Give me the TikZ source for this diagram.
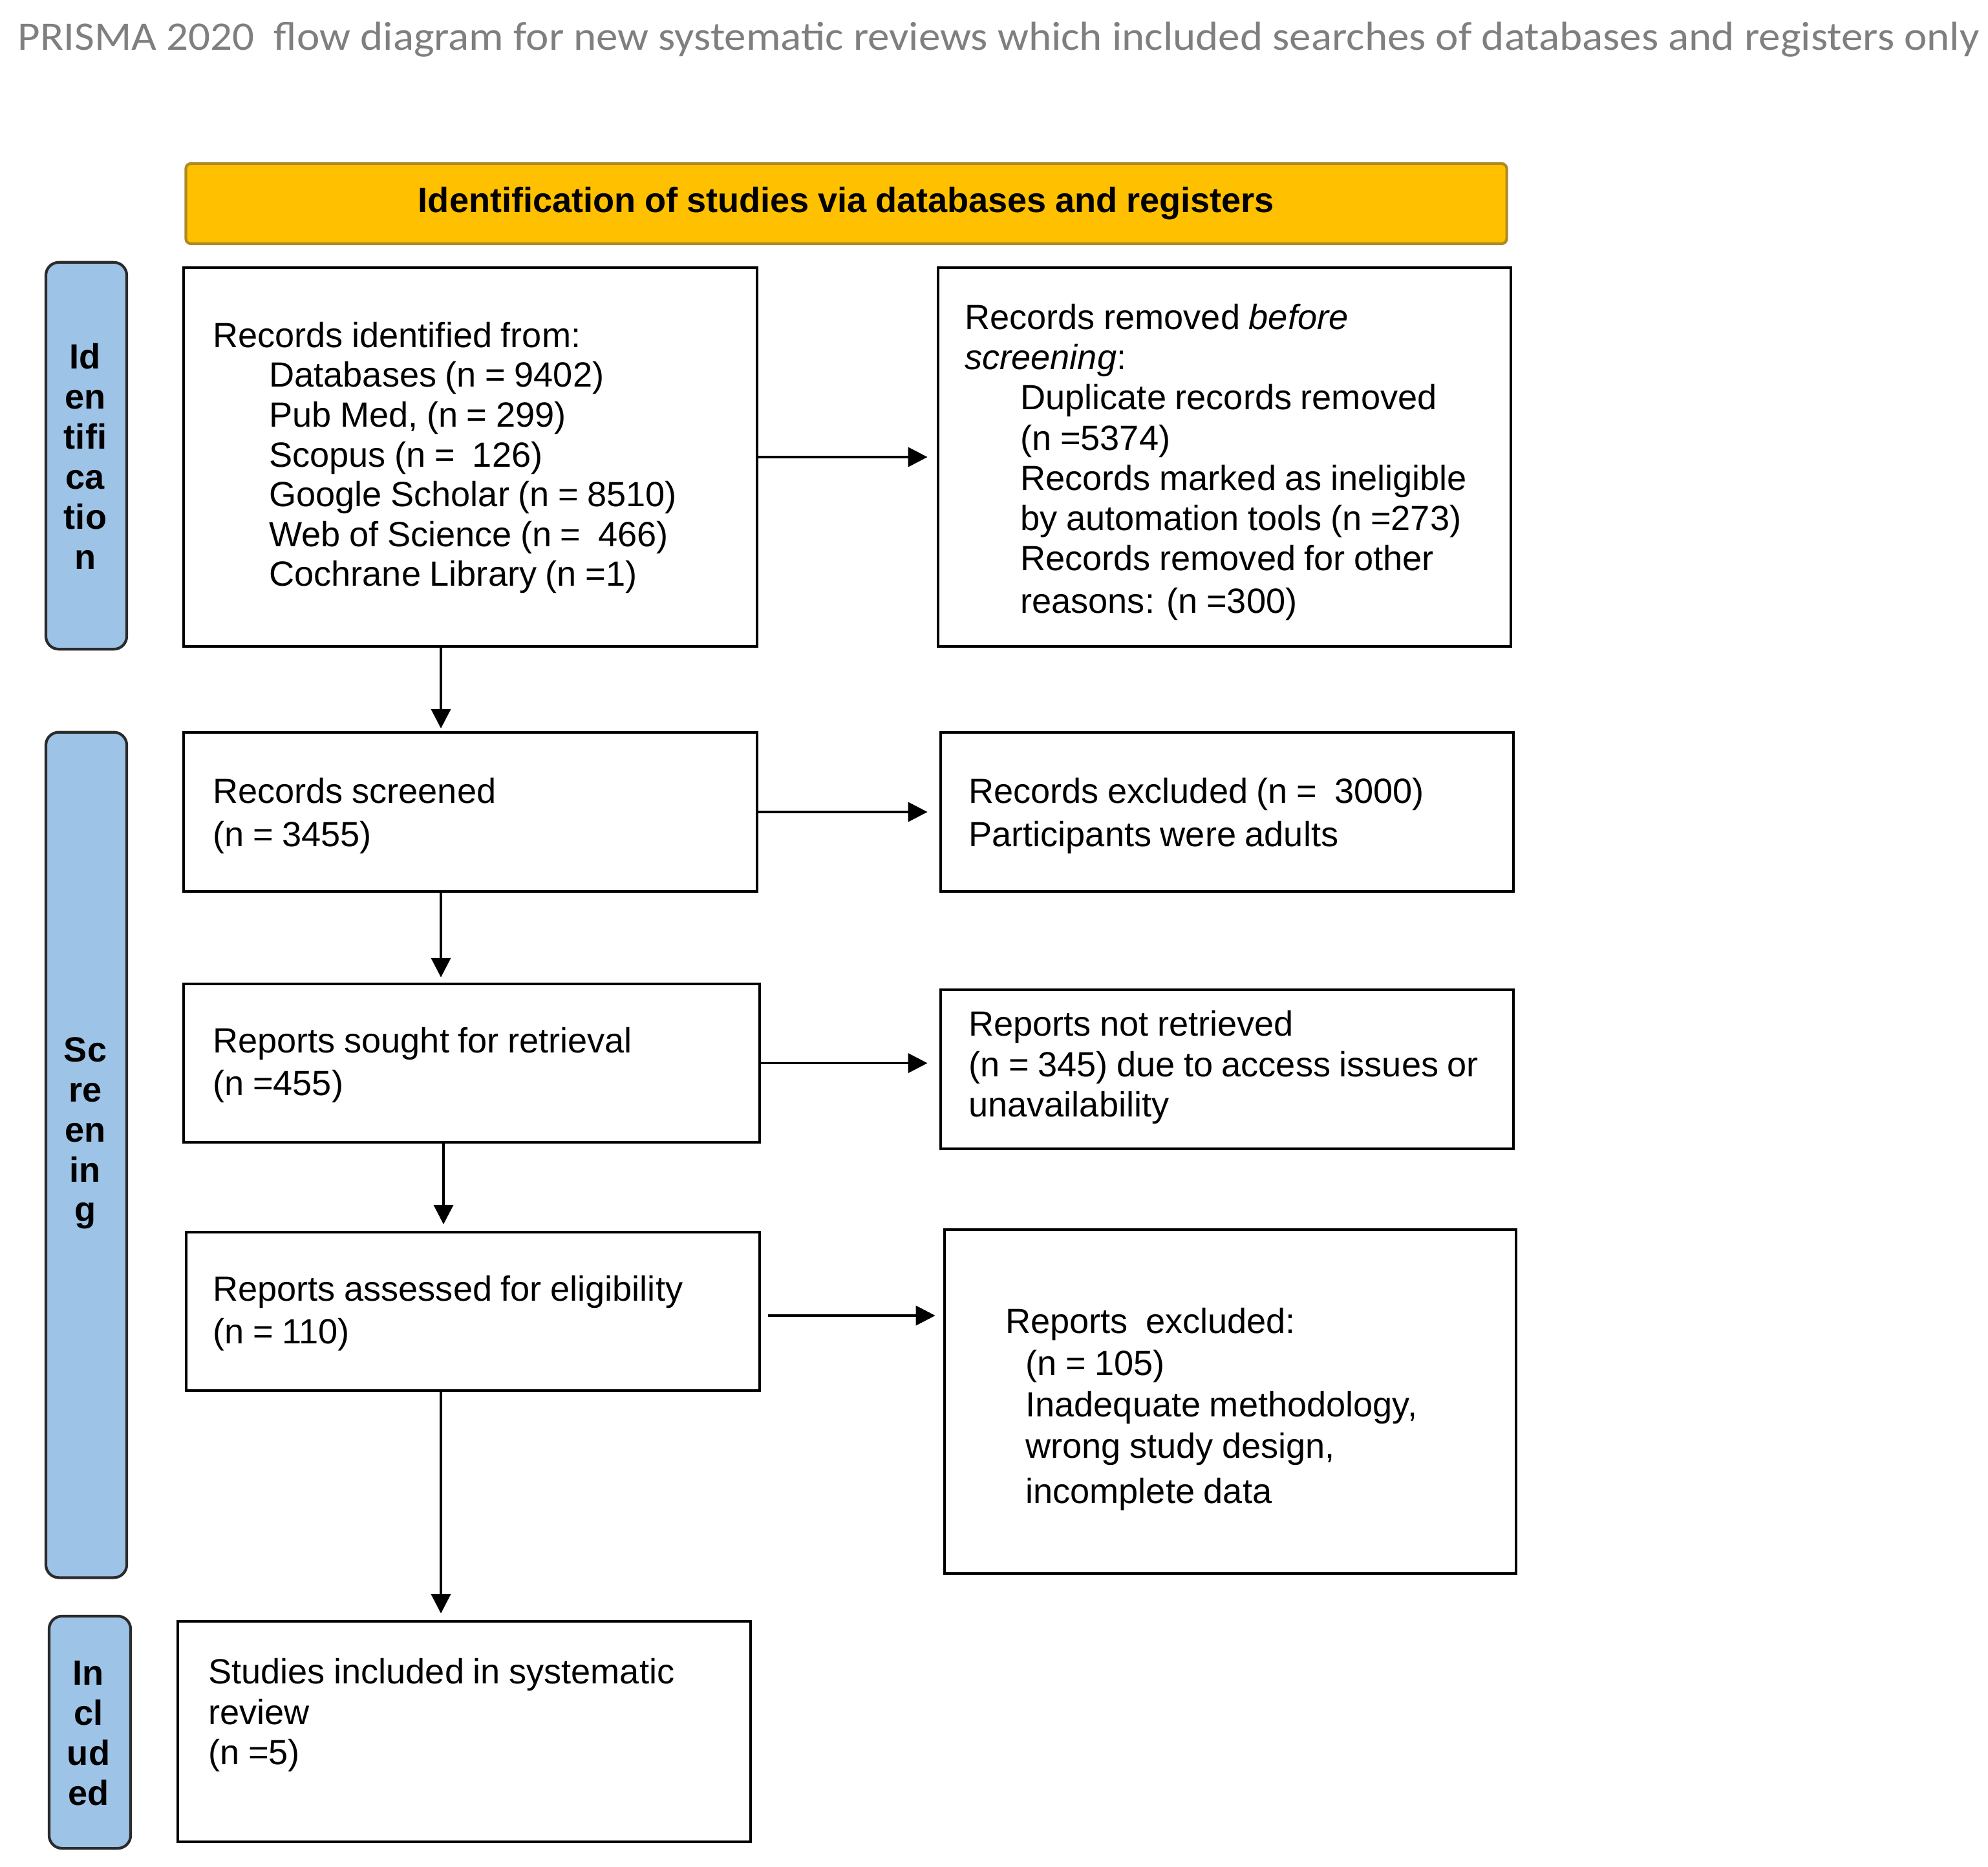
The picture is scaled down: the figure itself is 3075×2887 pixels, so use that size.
\documentclass[tikz,border=0pt]{standalone}
\usepackage{graphicx}
\usepackage{fontspec}
\setmainfont{Liberation Sans}[WordSpace=0.9]
\newfontfamily\titlefont{Carlito}
\usetikzlibrary{arrows.meta}
\definecolor{hdr}{HTML}{FFC000}
\definecolor{hdrb}{HTML}{AE8A24}
\definecolor{sidefill}{HTML}{9DC3E6}
\definecolor{sideb}{HTML}{2B2B2B}
\definecolor{ttl}{HTML}{7F7F7F}
\begin{document}
\begin{tikzpicture}[x=0.01cm,y=-0.01cm,
  box/.style={draw=black, line width=1.2pt, fill=white, inner sep=0pt},
  txt/.style={inner sep=0pt, align=left, anchor=west},
  sidebox/.style={draw=sideb, line width=1.2pt, fill=sidefill, rounded corners=0.2cm, inner sep=0pt},
  sidetxt/.style={inner sep=0pt, align=center, font=\bfseries\fontsize{15.4}{17.6}\selectfont},
  arr/.style={line width=1.1pt, -{Triangle[length=0.3cm,width=0.3cm]}}
]
\useasboundingbox (0,0) rectangle (3075,2887);

% title
\node[anchor=base west, inner sep=0pt, text=ttl, font=\titlefont\fontsize{17.8}{21}\selectfont] (title) at (27,77)
  {\resizebox{30.32cm}{\height}{PRISMA 2020\ \ flow diagram for new systematic reviews which included searches of databases and registers only}};

% header bar
\node[draw=hdrb, line width=1.2pt, fill=hdr, rounded corners=0.08cm, minimum width=20.42cm, minimum height=1.24cm, inner sep=0pt,
  font=\bfseries\fontsize{15.4}{17.6}\selectfont] (hdr) at (1309,315) {Identification of studies via databases and registers};

% side labels
\node[sidebox, minimum width=1.25cm, minimum height=5.98cm] (s1) at (133.5,705) {};
\node[sidetxt] (s1t) at (132,706) {Id\\en\\tifi\\ca\\tio\\n};
\node[sidebox, minimum width=1.25cm, minimum height=13.07cm] (s2) at (133.5,1786.5) {};
\node[sidetxt] (s2t) at (132,1753) {Sc\\re\\en\\in\\g};
\node[sidebox, minimum width=1.26cm, minimum height=3.59cm] (s3) at (139,2679.5) {};
\node[sidetxt] (s3t) at (137,2681) {In\\cl\\ud\\ed};

% boxes
\node[box, minimum width=8.87cm, minimum height=5.86cm] (b1) at (727.5,707) {};
\node[txt, font=\fontsize{15.4}{17.5}\selectfont] (t1) at ([xshift=0.47cm,yshift=-0.01cm]b1.west)
  {Records identified from:\\
   \hspace*{0.87cm}Databases (n = 9402)\\
   \hspace*{0.87cm}Pub Med, (n = 299)\\
   \hspace*{0.87cm}Scopus (n = \ 126)\\
   \hspace*{0.87cm}Google Scholar (n = 8510)\\
   \hspace*{0.87cm}Web of Science (n = \ 466)\\
   \hspace*{0.87cm}Cochrane Library (n =1)};

\node[box, minimum width=8.86cm, minimum height=5.86cm] (b2) at (1894,707) {};
\node[txt, font=\fontsize{15.4}{17.7}\selectfont] (t2) at ([xshift=0.43cm,yshift=-0.08cm]b2.west)
  {Records removed \textit{before}\\
   \textit{screening}:\\
   \hspace*{0.86cm}Duplicate records removed\\
   \hspace*{0.86cm}(n =5374)\\
   \hspace*{0.86cm}Records marked as ineligible\\
   \hspace*{0.86cm}by automation tools (n =273)\\
   \hspace*{0.86cm}Records removed for other\\[1pt]
   \hspace*{0.86cm}reasons: (n =300)};

\node[box, minimum width=8.87cm, minimum height=2.46cm] (b3) at (727.5,1256) {};
\node[txt, font=\fontsize{15.4}{18.9}\selectfont] (t3) at ([xshift=0.47cm,yshift=-0.06cm]b3.west)
  {Records screened\\(n = 3455)};

\node[box, minimum width=8.86cm, minimum height=2.46cm] (b4) at (1898,1256) {};
\node[txt, font=\fontsize{15.4}{18.9}\selectfont] (t4) at ([xshift=0.45cm,yshift=-0.06cm]b4.west)
  {Records excluded (n = \ 3000)\\Participants were adults};

\node[box, minimum width=8.91cm, minimum height=2.45cm] (b5) at (729.5,1644.5) {};
\node[txt, font=\fontsize{15.4}{18.9}\selectfont] (t5) at ([xshift=0.47cm,yshift=-0.03cm]b5.west)
  {Reports sought for retrieval\\(n =455)};

\node[box, minimum width=8.86cm, minimum height=2.46cm] (b6) at (1898,1654) {};
\node[txt, font=\fontsize{15.4}{17.8}\selectfont] (t6) at ([xshift=0.45cm,yshift=0.03cm]b6.west)
  {Reports not retrieved\\(n = 345) due to access issues or\\unavailability};

\node[box, minimum width=8.87cm, minimum height=2.45cm] (b7) at (731.5,2028.5) {};
\node[txt, font=\fontsize{15.4}{18.9}\selectfont] (t7) at ([xshift=0.43cm,yshift=-0.03cm]b7.west)
  {Reports assessed for eligibility\\(n = 110)};

\node[box, minimum width=8.84cm, minimum height=5.32cm] (b8) at (1903,2168) {};
\node[txt, font=\fontsize{15.4}{18.3}\selectfont] (t8) at ([xshift=0.96cm,yshift=-0.12cm]b8.west)
  {Reports\ \ excluded:\\
   \hspace*{0.31cm}(n = 105)\\
   \hspace*{0.31cm}Inadequate methodology,\\
   \hspace*{0.31cm}wrong study design,\\[1.5pt]
   \hspace*{0.31cm}incomplete data};

\node[box, minimum width=8.86cm, minimum height=3.41cm] (b9) at (718,2678.5) {};
\node[txt, font=\fontsize{15.4}{17.8}\selectfont] (t9) at ([xshift=0.49cm,yshift=0.255cm]b9.west)
  {Studies included in systematic\\review\\(n =5)};

% connectors
\coordinate (vx) at (682,0);
\coordinate (vxb) at (686,0);
\draw[arr, shorten >=0.14cm] (b1.east) -- (b2.west);
\draw[arr, shorten >=0.18cm] (b3.east) -- (b4.west);
\draw[arr, shorten >=0.18cm] (b5.east) -- (b5.east -| b6.west);
\draw[arr, shorten <=0.11cm, shorten >=0.12cm] ([yshift=-0.065cm]b7.east) -- ([yshift=-0.065cm]b7.east -| b8.west);
\draw[arr, shorten >=0.04cm] (b1.south -| vx) -- (b3.north -| vx);
\draw[arr, shorten >=0.08cm] (b3.south -| vx) -- (b5.north -| vx);
\draw[arr, shorten >=0.1cm] (b5.south -| vxb) -- (b7.north -| vxb);
\draw[arr, shorten >=0.1cm] (b7.south -| vx) -- (b9.north -| vx);
\end{tikzpicture}
\end{document}
